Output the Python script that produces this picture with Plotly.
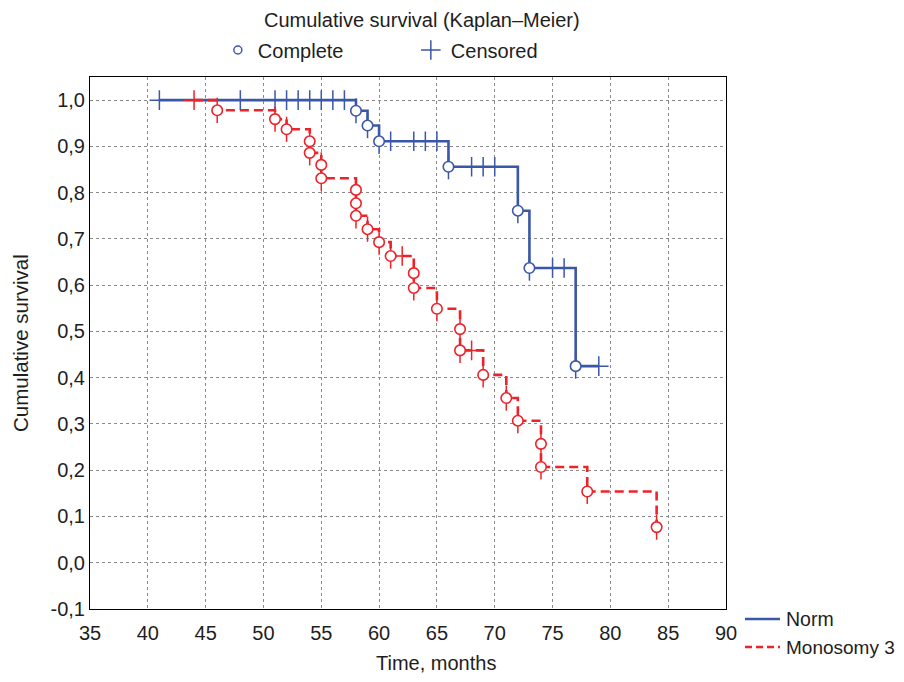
import plotly.graph_objects as go

# ---- data ----
norm_start = 41
norm_end = 79
norm_event_t = [58, 59, 60, 66, 72, 73, 77]
norm_event_s = [0.977, 0.945, 0.911, 0.856, 0.761, 0.637, 0.425]
norm_cens_t = [41, 48, 51, 52, 53, 54, 55, 56, 57, 61, 63, 64, 65, 68, 69, 70, 75, 76, 79]

mono_start = 44
mono_end = 84.5
mono_event_t = [46, 51, 52, 54, 54, 55, 55, 58, 58, 58, 59, 60, 61, 63, 63, 65, 67, 67,
                69, 71, 72, 74, 74, 78, 84]
mono_event_s = [0.978, 0.959, 0.937, 0.911, 0.886, 0.860, 0.831, 0.806, 0.777, 0.750,
                0.721, 0.693, 0.663, 0.626, 0.594, 0.549, 0.505, 0.459, 0.406, 0.356,
                0.307, 0.257, 0.207, 0.154, 0.077]
mono_cens_t = [44, 62, 68]

x_ticks = [35, 40, 45, 50, 55, 60, 65, 70, 75, 80, 85, 90]
y_ticks = [-0.1, 0.0, 0.1, 0.2, 0.3, 0.4, 0.5, 0.6, 0.7, 0.8, 0.9, 1.0]
y_tick_labels = ["-0,1", "0,0", "0,1", "0,2", "0,3", "0,4", "0,5", "0,6", "0,7", "0,8", "0,9", "1,0"]

BLUE = "#3B57A8"
RED = "#EE2229"
FONT = "Liberation Sans, Arial, sans-serif"
TXT = "#1e1e1e"

# plot area in screen pixels (reference)
PL, PR, PT, PB = 90, 726, 77, 609


def px(sx):
    return (sx - PL) / (PR - PL)


def py(sy):
    return (PB - sy) / (PB - PT)


def surv_at(t, ev_t, ev_s):
    s = 1.0
    for et, es in zip(ev_t, ev_s):
        if et <= t:
            s = es
    return s


fig = go.Figure()

series = [
    ("Norm", BLUE, "solid", norm_start, norm_end, norm_event_t, norm_event_s, norm_cens_t),
    ("Monosomy 3", RED, "9px,5px", mono_start, mono_end, mono_event_t, mono_event_s, mono_cens_t),
]

for name, col, dash, st, en, et, es, ct in series:
    xs = [st] + list(et) + [en]
    ys = [1.0] + list(es) + [es[-1]]
    fig.add_trace(go.Scatter(x=xs, y=ys, mode="lines",
                             line=dict(color=col, width=2.6, dash=dash, shape="hv"),
                             showlegend=False, hoverinfo="skip"))

for name, col, dash, st, en, et, es, ct in series:
    cy = [surv_at(t, et, es) for t in ct]
    fig.add_trace(go.Scatter(x=ct, y=cy, mode="markers",
                             marker=dict(symbol="cross-thin-open", size=14, line=dict(color=col, width=1.5), color=col),
                             showlegend=False, hoverinfo="skip"))
    fig.add_trace(go.Scatter(x=et, y=es, mode="markers",
                             marker=dict(symbol="line-ns-open", size=18, line=dict(color=col, width=1.5), color=col),
                             showlegend=False, hoverinfo="skip"))
    fig.add_trace(go.Scatter(x=et, y=es, mode="markers",
                             marker=dict(symbol="circle", size=10.5, color="white", line=dict(color=col, width=1.6)),
                             showlegend=False, hoverinfo="skip"))

# legend entries for the top legend
fig.add_trace(go.Scatter(x=[None], y=[None], mode="markers", name="Complete",
                         marker=dict(symbol="circle-open", size=8, color=BLUE, line=dict(width=1.5))))
fig.add_trace(go.Scatter(x=[None], y=[None], mode="markers", name="Censored",
                         marker=dict(symbol="cross-thin-open", size=14, color=BLUE, line=dict(color=BLUE, width=1.5))))

annotations = [
    dict(text="Cumulative survival (Kaplan\u2013Meier)", x=px(422), y=py(20), font=dict(size=20)),
    dict(text="Time, months", x=px(436), y=py(663), font=dict(size=20)),
    dict(text="Cumulative survival", x=px(20), y=py(343), textangle=-90, font=dict(size=20.5)),
    dict(text="Norm", x=px(784), y=py(619), xanchor="left", font=dict(size=19.5)),
    dict(text="Monosomy 3", x=px(784), y=py(647), xanchor="left", font=dict(size=19)),
]
for a in annotations:
    a.setdefault("xanchor", "center")
    a.update(xref="paper", yref="paper", yanchor="middle", showarrow=False)

shapes = [
    dict(type="line", xref="paper", yref="paper", x0=px(745), x1=px(780), y0=py(619), y1=py(619),
         line=dict(color=BLUE, width=2.6)),
    dict(type="line", xref="paper", yref="paper", x0=px(745), x1=px(780), y0=py(647), y1=py(647),
         line=dict(color=RED, width=2.6, dash="7px,4px")),
]

fig.update_layout(
    width=904, height=682,
    margin=dict(l=82, r=186, t=69, b=81),
    paper_bgcolor="white", plot_bgcolor="white",
    font=dict(family=FONT, size=20, color=TXT),
    showlegend=True,
    legend=dict(orientation="h", x=0.201, xanchor="left", y=py(50), yanchor="middle",
                entrywidth=148, entrywidthmode="pixels", font=dict(size=20),
                bgcolor="rgba(0,0,0,0)"),
    annotations=annotations,
    shapes=shapes,
)

fig.update_xaxes(range=[35, 90], tickvals=x_ticks, showgrid=True, gridcolor="#8a8a8a", griddash="dot",
                 gridwidth=1, showline=True, linecolor="black", linewidth=1, mirror=True, zeroline=False,
                 ticks="", tickfont=dict(size=20), ticklabelstandoff=6)
fig.update_yaxes(range=[-0.1, 1.05], tickvals=y_ticks, ticktext=y_tick_labels, showgrid=True,
                 gridcolor="#8a8a8a", griddash="dot", gridwidth=1, showline=True, linecolor="black",
                 linewidth=1, mirror=True, zeroline=False, ticks="", tickfont=dict(size=20))

fig.write_html("out.html")
